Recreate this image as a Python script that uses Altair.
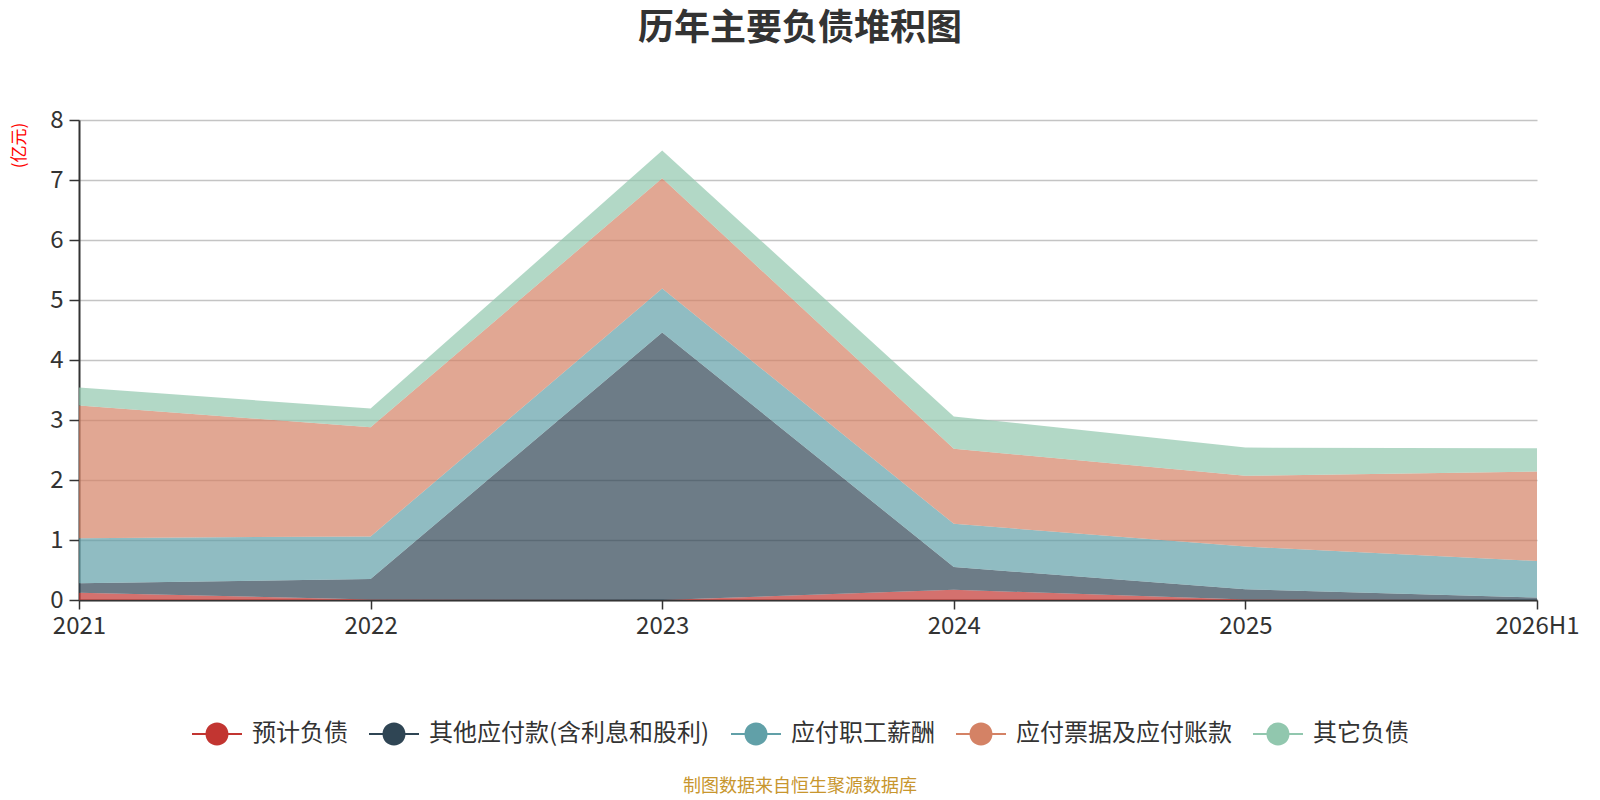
import altair as alt
import pandas as pd

years = ["2021", "2022", "2023", "2024", "2025", "2026H1"]
series_names = ["预计负债", "其他应付款(含利息和股利)", "应付职工薪酬", "应付票据及应付账款", "其它负债"]
yujifuzhai = [0.12, 0.01, 0.0, 0.17, 0.01, 0.0]
qitayingfu = [0.16, 0.34, 4.46, 0.38, 0.17, 0.04]
zhigongxinchou = [0.75, 0.71, 0.73, 0.72, 0.71, 0.61]
piaojuzhangkuan = [2.21, 1.82, 1.84, 1.25, 1.18, 1.49]
qitafuzhai = [0.30, 0.31, 0.46, 0.54, 0.47, 0.39]
colors = ["#c23531", "#2f4554", "#61a0a8", "#d48265", "#91c7ae"]
title_text = "历年主要负债堆积图"
unit_text = "(亿元)"
footer_text = "制图数据来自恒生聚源数据库"

FONT = "Noto Sans CJK SC"

all_series = [yujifuzhai, qitayingfu, zhigongxinchou, piaojuzhangkuan, qitafuzhai]
rows = []
for si, (name, vals) in enumerate(zip(series_names, all_series)):
    for y, v in zip(years, vals):
        rows.append({"year": y, "series": name, "value": v, "order": si})
df = pd.DataFrame(rows)

W, H = 1458, 480

legend_path = ("M-1,-0.04L1,-0.04L1,0.04L-1,0.04Z "
               "M0.46,0A0.46,0.46,0,1,1,-0.46,0A0.46,0.46,0,1,1,0.46,0Z")

area = alt.Chart(df).mark_area(opacity=0.7, interpolate="linear").encode(
    x=alt.X("year:O", sort=years,
            scale=alt.Scale(type="point", padding=0),
            axis=alt.Axis(title=None, labelAngle=0, labelFontSize=24, labelColor="#333",
                          labelFont=FONT, domainColor="#333", domainWidth=2,
                          tickColor="#333", tickSize=9, tickWidth=1.5,
                          labelPadding=5, grid=False)),
    y=alt.Y("value:Q", stack="zero",
            scale=alt.Scale(domain=[0, 8], nice=False),
            axis=alt.Axis(title=unit_text, titleColor="red", titleFontSize=17,
                          titleFont=FONT, titleFontWeight="normal",
                          titleX=-60, titleY=25, titleAngle=270,
                          titleAlign="center", titleBaseline="middle",
                          values=[0, 1, 2, 3, 4, 5, 6, 7, 8], format="d",
                          labelFontSize=24, labelColor="#333", labelFont=FONT,
                          domainColor="#333", domainWidth=2,
                          tickColor="#333", tickSize=10, tickWidth=1.5,
                          labelPadding=6, gridColor="#c4c4c4", gridWidth=1.3)),
    color=alt.Color("series:N",
                    scale=alt.Scale(domain=series_names, range=colors),
                    legend=alt.Legend(title=None, orient="none", direction="horizontal",
                                      legendX=113, legendY=589, padding=0,
                                      symbolType=legend_path, symbolSize=2500,
                                      symbolOpacity=1, symbolStrokeWidth=0,
                                      labelFontSize=24, labelColor="#333", labelFont=FONT,
                                      labelOffset=10, columnPadding=21,
                                      labelLimit=500)),
    order=alt.Order("order:Q"),
)

footer = alt.Chart(pd.DataFrame({"t": [footer_text]})).mark_text(
    fontSize=18, color="#c8962e", font=FONT, align="center", baseline="middle"
).encode(text="t:N", x=alt.value(721), y=alt.value(667))

chart = alt.layer(area, footer).properties(
    width=W, height=H,
    title=alt.TitleParams(text=title_text, fontSize=36, fontWeight="bold", color="#333",
                          font=FONT, anchor="middle", frame="group", dx=-8, offset=60),
    autosize=alt.AutoSizeParams(type="none"),
    padding={"left": 71, "top": 112, "right": 55, "bottom": 200},
    background="white",
).configure_view(stroke=None)

chart.save("out.html", embed_options={"renderer": "svg", "actions": False})
